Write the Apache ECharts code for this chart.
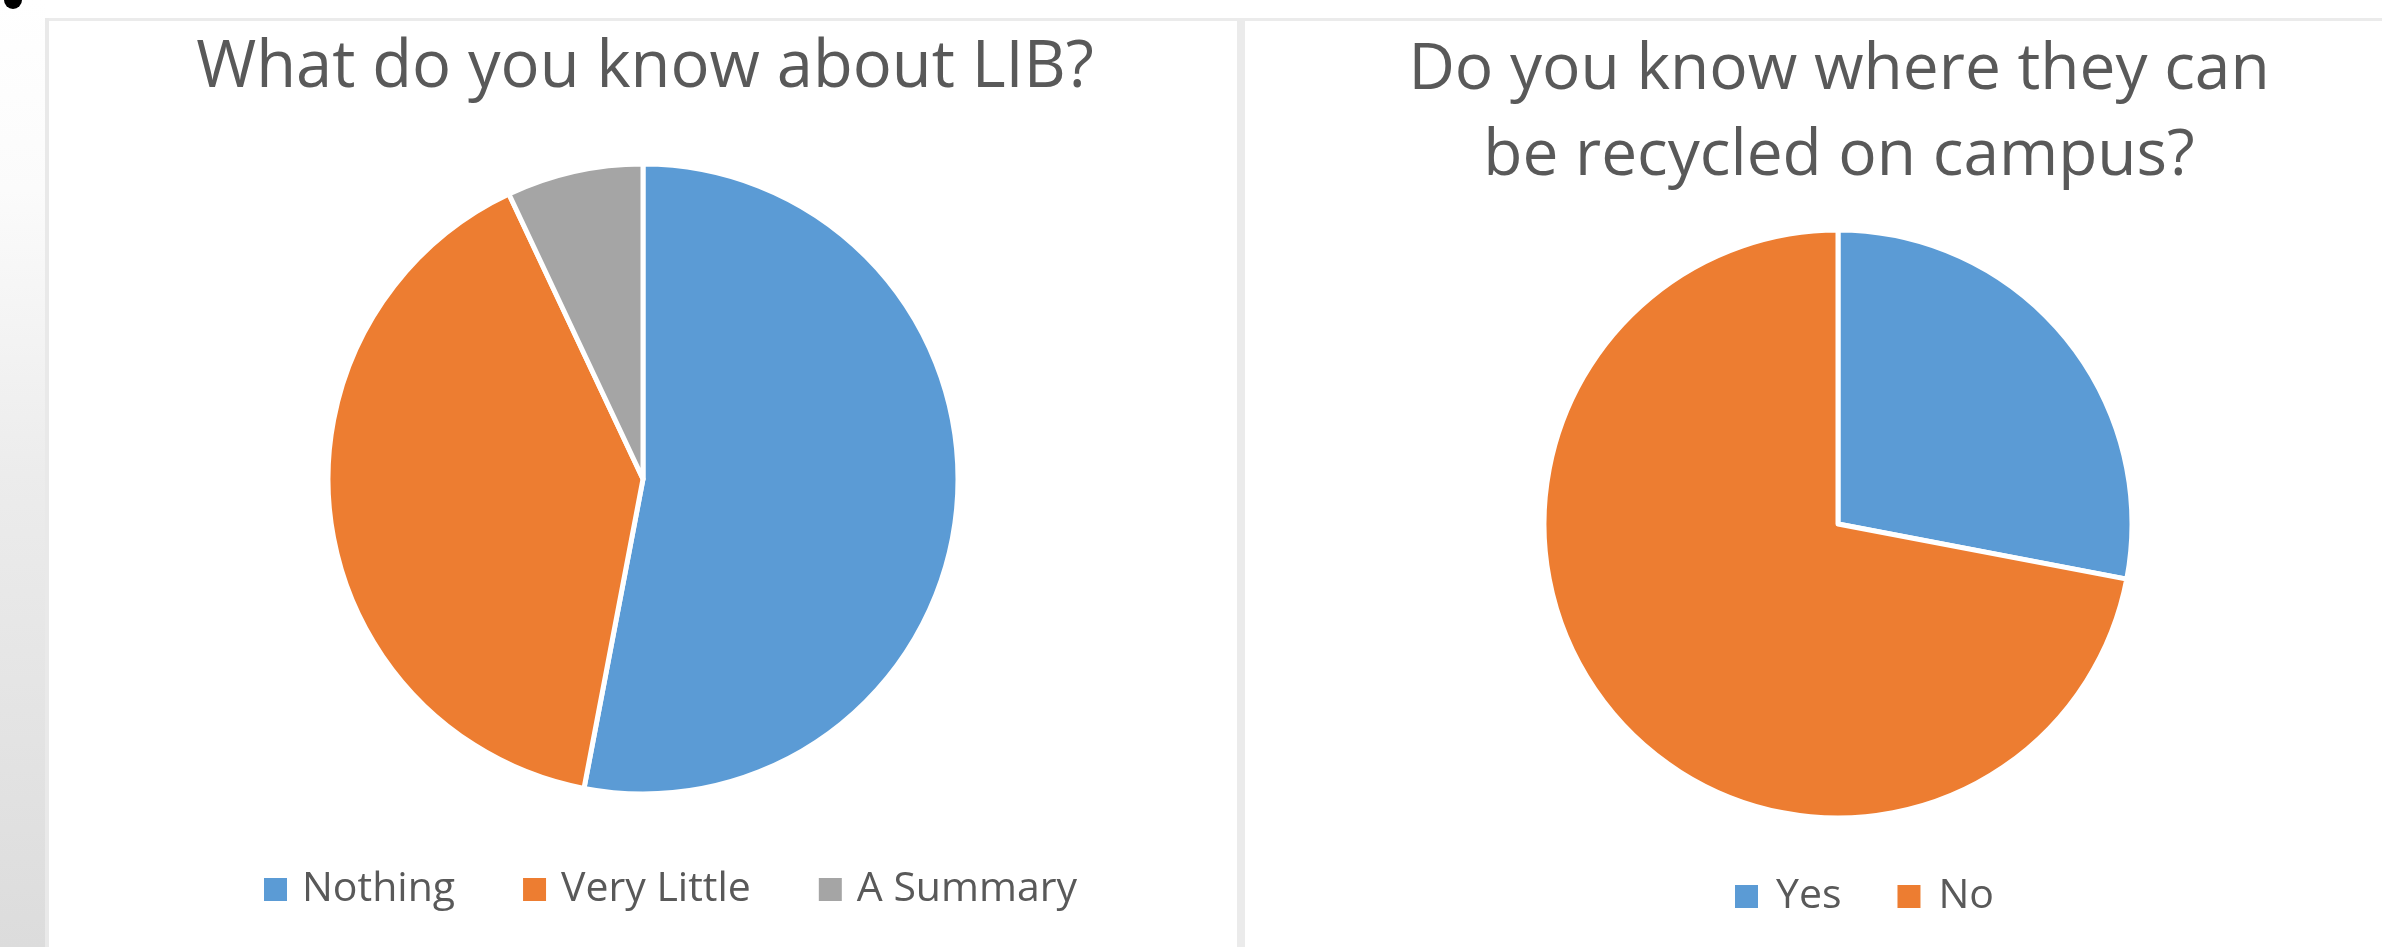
<!DOCTYPE html>
<html>
<head>
<meta charset="utf-8">
<script src="https://cdn.jsdelivr.net/npm/echarts@6/dist/echarts.min.js"></script>
<style>
html,body{margin:0;padding:0;background:#fff;}
#chart{width:2382px;height:947px;}
</style>
</head>
<body>
<div id="chart"></div>
<script>
// ---- data ----
const leftTitle = 'What do you know about LIB?';
const leftCategories = ['Nothing', 'Very Little', 'A Summary'];
const leftValues = [53, 40, 7];

const rightTitle = 'Do you know where they can\nbe recycled on campus?';
const rightCategories = ['Yes', 'No'];
const rightValues = [28, 72];

const colors = {
  'Nothing': '#5B9BD5', 'Very Little': '#ED7D31', 'A Summary': '#A5A5A5',
  'Yes': '#5B9BD5', 'No': '#ED7D31'
};

const FONT = '"Open Sans", "Noto Sans", sans-serif';
const TEXT = '#595959';

function toData(cats, vals) {
  return cats.map((c, i) => ({ name: c, value: vals[i], itemStyle: { color: colors[c] } }));
}

const chart = echarts.init(document.getElementById('chart'), null, { renderer: 'canvas' });

const option = {
  backgroundColor: '#ffffff',
  animation: false,
  graphic: [
    // left gray strip
    { type: 'rect', shape: { x: 0, y: 0, width: 45, height: 947 }, z: -10,
      style: { fill: new echarts.graphic.LinearGradient(0, 0, 0, 1, [
        { offset: 0, color: '#ffffff' }, { offset: 0.2, color: '#fbfbfb' },
        { offset: 0.5, color: '#ececec' }, { offset: 1, color: '#dcdcdc' }]) } },
    // top border
    { type: 'rect', shape: { x: 45, y: 18, width: 2337, height: 3 }, z: -5, style: { fill: '#ebebeb' } },
    // left border
    { type: 'rect', shape: { x: 45, y: 18, width: 4, height: 929 }, z: -5, style: { fill: '#e9e9e9' } },
    // divider
    { type: 'rect', shape: { x: 1237, y: 18, width: 8, height: 929 }, z: -5, style: { fill: '#ebebeb' } },
    // black dot at top-left
    { type: 'circle', shape: { cx: 13, cy: 0, r: 9 }, style: { fill: '#000000' } }
  ],
  title: [
    { text: leftTitle, left: 645, top: 68, textAlign: 'center', textVerticalAlign: 'middle', padding: 0,
      textStyle: { fontFamily: FONT, fontSize: 65, fontWeight: 'normal', color: TEXT } },
    { text: rightTitle, left: 1839, top: 114, textAlign: 'center', textVerticalAlign: 'middle', padding: 0,
      textStyle: { fontFamily: FONT, fontSize: 64, fontWeight: 'normal', color: TEXT, lineHeight: 86 } }
  ],
  legend: [
    { data: leftCategories, left: 262, top: 869, padding: 0, orient: 'horizontal',
      icon: 'rect', itemWidth: 25, itemHeight: 25, itemGap: 66,
      textStyle: { fontFamily: FONT, fontSize: 41, color: TEXT, padding: [0, 0, 0, 9] } },
    { data: rightCategories, left: 1733, top: 876, padding: 0, orient: 'horizontal',
      icon: 'rect', itemWidth: 25, itemHeight: 25, itemGap: 54,
      textStyle: { fontFamily: FONT, fontSize: 41, color: TEXT, padding: [0, 0, 0, 12] } }
  ],
  series: [
    { type: 'pie', center: [643, 479], radius: 315, startAngle: 90, clockwise: true,
      label: { show: false }, labelLine: { show: false }, emphasis: { disabled: true },
      itemStyle: { borderColor: '#ffffff', borderWidth: 5 },
      data: toData(leftCategories, leftValues) },
    { type: 'pie', center: [1838, 524], radius: 294, startAngle: 90, clockwise: true,
      label: { show: false }, labelLine: { show: false }, emphasis: { disabled: true },
      itemStyle: { borderColor: '#ffffff', borderWidth: 5 },
      data: toData(rightCategories, rightValues) }
  ]
};
chart.setOption(option);
</script>
</body>
</html>
